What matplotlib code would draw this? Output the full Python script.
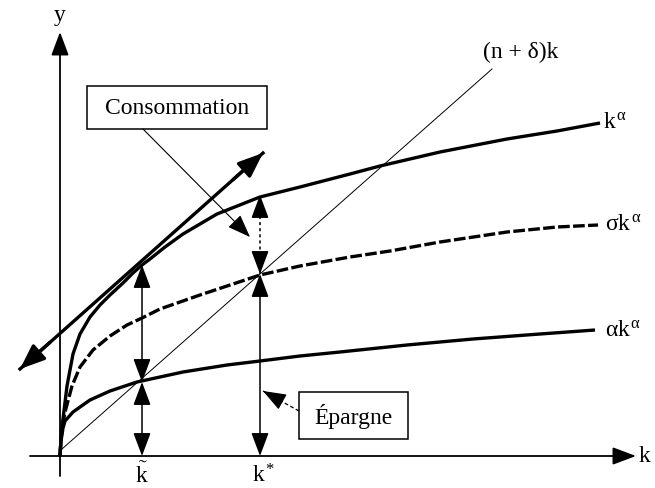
import matplotlib
matplotlib.use("Agg")
import matplotlib.pyplot as plt
from matplotlib.patches import Rectangle

plt.rcParams['font.family'] = ['Liberation Serif', 'DejaVu Serif']
plt.rcParams['mathtext.fontset'] = 'custom'
plt.rcParams['mathtext.rm'] = 'Liberation Serif'
plt.rcParams['mathtext.it'] = 'Liberation Serif'
plt.rcParams['mathtext.bf'] = 'Liberation Serif:bold'

# === Data ===
k_prod = [0, 0.01, 0.03, 0.07, 0.13, 0.20, 0.30, 0.40, 0.50, 0.63, 0.73, 0.82,
          0.90, 1.05, 1.23, 1.57, 2.0, 2.4, 2.9, 3.2, 3.8, 4.47, 4.97, 5.40]
y_prod = [0, 0.17, 0.37, 0.70, 1.02, 1.22, 1.39, 1.51, 1.61, 1.73, 1.83, 1.91,
          1.97, 2.09, 2.22, 2.42, 2.59, 2.69, 2.82, 2.90, 3.04, 3.17, 3.25, 3.33]

k_sav = [0, 0.01, 0.03, 0.05, 0.12, 0.20, 0.33, 0.50, 0.67, 0.82, 1.0, 1.4,
         2.0, 2.4, 2.9, 3.3, 3.8, 4.47, 4.97, 5.38]
y_sav = [0, 0.17, 0.33, 0.44, 0.70, 0.89, 1.06, 1.20, 1.31, 1.38, 1.47, 1.61,
         1.81, 1.90, 1.99, 2.05, 2.14, 2.24, 2.29, 2.31]

k_alpha = [0, 0.01, 0.03, 0.05, 0.13, 0.30, 0.50, 0.77, 1.23, 1.67, 2.0, 2.4,
           2.8, 3.47, 4.13, 4.8, 5.35]
y_alpha = [0, 0.15, 0.28, 0.35, 0.44, 0.56, 0.65, 0.74, 0.84, 0.91, 0.95, 1.00,
           1.04, 1.11, 1.17, 1.22, 1.26]

k_dep = [0.02, 4.32]
y_dep = [0.07, 3.87]

k_tan = [-0.40, 2.03]
y_tan = [0.87, 3.03]

k_tilde, k_star = 0.82, 2.0
y_tilde_alpha, y_tilde_prod = 0.74, 1.91
y_star_sav, y_star_prod = 1.82, 2.61

labels = {
    'prod': r'$k^{\alpha}$',
    'sav': r'$\sigma k^{\alpha}$',
    'alpha': r'$\alpha k^{\alpha}$',
    'dep': '(n + δ)k',
}


def arrow(ax, start, end, style='-|>', lw=1.1, hl=0.72, hw=0.27):
    ax.annotate('', xy=end, xytext=start,
                arrowprops=dict(arrowstyle=f'{style},head_length={hl},head_width={hw}',
                                mutation_scale=20, color='black', lw=lw,
                                shrinkA=0, shrinkB=0))


def dashed_arrow(ax, start, end, both=False, lw=1.1, dash=(2, 2)):
    ax.plot([start[0], end[0]], [start[1], end[1]], color='black', lw=lw,
            linestyle=(0, dash))
    dx, dy = end[0] - start[0], end[1] - start[1]
    d = (dx ** 2 + dy ** 2) ** 0.5
    s = 0.2 / d
    arrow(ax, (end[0] - dx * s, end[1] - dy * s), end, lw=lw)
    if both:
        arrow(ax, (start[0] + dx * s, start[1] + dy * s), start, lw=lw)


fig = plt.figure(figsize=(6.55, 4.89), dpi=100)
ax = fig.add_axes([0, 0, 1, 1])
ax.set_xlim(-0.6, 5.95)
ax.set_ylim(-0.32, 4.57)
ax.axis('off')

# axes
arrow(ax, (-0.30, 0), (5.76, 0), lw=1.3)
arrow(ax, (0, -0.20), (0, 4.24), lw=1.3)
ax.text(0, 4.42, 'y', fontsize=17, ha='center', va='center')
ax.text(5.84, 0.0, 'k', fontsize=17, ha='center', va='center')

# curves
ax.plot(k_dep, y_dep, color='black', lw=0.7)
ax.plot(k_prod, y_prod, color='black', lw=2.4, solid_capstyle='butt')
ax.plot(k_sav, y_sav, color='black', lw=2.4, linestyle=(0, (3.5, 1)))
ax.plot(k_alpha, y_alpha, color='black', lw=2.4, solid_capstyle='butt')
arrow(ax, (k_tan[0] + 0.3, y_tan[0] + 0.3 * 0.889), (k_tan[0], y_tan[0]), lw=2.4, hl=0.75, hw=0.3)
arrow(ax, (k_tan[1] - 0.3, y_tan[1] - 0.3 * 0.889), (k_tan[1], y_tan[1]), lw=2.4, hl=0.75, hw=0.3)
ax.plot(k_tan, y_tan, color='black', lw=2.4)

ax.text(5.43, 3.35, labels['prod'], fontsize=17, ha='left', va='center')
ax.text(5.45, 2.33, labels['sav'], fontsize=17, ha='left', va='center')
ax.text(5.45, 1.26, labels['alpha'], fontsize=17, ha='left', va='center')
ax.text(4.61, 4.05, labels['dep'], fontsize=17, ha='center', va='center')

# vertical double arrows
arrow(ax, (k_tilde, 0), (k_tilde, y_tilde_alpha), style='<|-|>')
arrow(ax, (k_tilde, y_tilde_alpha), (k_tilde, y_tilde_prod), style='<|-|>')
arrow(ax, (k_star, 0), (k_star, y_star_sav), style='<|-|>')
dashed_arrow(ax, (k_star, y_star_sav), (k_star, y_star_prod), both=True)

ax.text(k_tilde, -0.18, r'$\tilde{k}$', fontsize=17, ha='center', va='center')
ax.text(k_star + 0.03, -0.19, r'$k^{*}$', fontsize=17, ha='center', va='center')

# boxes
ax.add_patch(Rectangle((0.27, 3.27), 1.80, 0.43, fill=False, edgecolor='black', lw=1.1))
ax.text(1.17, 3.485, 'Consommation', fontsize=17, ha='center', va='center')
arrow(ax, (0.83, 3.27), (1.90, 2.19), lw=0.8)

ax.add_patch(Rectangle((2.39, 0.17), 1.09, 0.47, fill=False, edgecolor='black', lw=1.1))
ax.text(2.935, 0.405, 'Épargne', fontsize=17, ha='center', va='center')
dashed_arrow(ax, (2.39, 0.45), (2.03, 0.65), lw=0.9, dash=(3, 2))

fig.savefig('out.png', dpi=100)
